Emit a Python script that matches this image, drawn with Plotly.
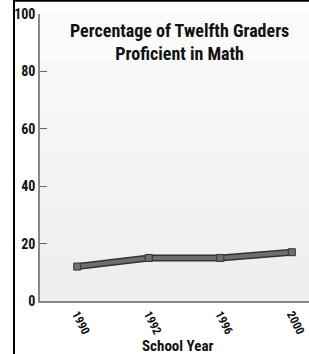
import plotly.graph_objects as go

years = ["1990", "1992", "1996", "2000"]
values = [12, 15, 15, 17]
y_ticks = [0, 20, 40, 60, 80, 100]

FONT = "Liberation Sans Narrow, Arial Narrow, Roboto Condensed, Liberation Sans, sans-serif"

fig = go.Figure()
# outline under the thick line
fig.add_trace(go.Scatter(x=years, y=values, mode="lines",
                         line=dict(color="#333333", width=7), hoverinfo="skip"))
fig.add_trace(go.Scatter(x=years, y=values, mode="lines+markers",
                         line=dict(color="#6e6e6e", width=4),
                         marker=dict(symbol="square", size=7, color="#6e6e6e",
                                     line=dict(color="#333333", width=1))))

# light gradient in the plot background
bands = ["#fbfbfb", "#f8f8f8", "#f5f5f5", "#f3f3f3", "#f1f1f1", "#efefef"]
n = len(bands)
for i, c in enumerate(bands):
    fig.add_shape(type="rect", xref="paper", yref="paper",
                  x0=0, x1=1, y0=1 - (i + 1) / n, y1=1 - i / n,
                  fillcolor=c, line_width=0, layer="below")

# black frame (left and top)
fig.add_shape(type="line", xref="paper", yref="paper",
              x0=-0.0967, x1=-0.0967, y0=-0.2, y1=1.05,
              line=dict(color="black", width=2))
fig.add_shape(type="line", xref="paper", yref="paper",
              x0=-0.0967, x1=1.0, y0=1.046, y1=1.046,
              line=dict(color="black", width=2))

fig.add_annotation(text="<b>Percentage of Twelfth Graders<br>Proficient in Math</b>",
                   xref="paper", yref="paper", x=0.52, y=0.985,
                   xanchor="center", yanchor="top", showarrow=False,
                   font=dict(family=FONT, size=18, color="#111111"))

fig.add_annotation(text="<b>School Year</b>",
                   xref="paper", yref="paper", x=0.51, y=-0.157,
                   xanchor="center", yanchor="middle", showarrow=False,
                   font=dict(family=FONT, size=15, color="#111111"))

fig.update_layout(
    width=309, height=354,
    margin=dict(l=40, r=0, t=14, b=53),
    paper_bgcolor="white", plot_bgcolor="#f4f4f4",
    showlegend=False,
    font=dict(family=FONT, color="#111111"),
    xaxis=dict(type="category", range=[-0.52, 3.24], showgrid=False,
               showline=True, linecolor="#888888", linewidth=1.5,
               ticks="", tickangle=63, automargin=False,
               tickfont=dict(family=FONT, size=12, color="#111111", weight="bold"),
               zeroline=False),
    yaxis=dict(range=[0, 100], tickvals=y_ticks, showgrid=False,
               showline=True, linecolor="#888888", linewidth=1.5,
               ticks="inside", ticklen=7, tickcolor="#666666", automargin=False,
               tickfont=dict(family=FONT, size=14, color="#111111", weight="bold"),
               zeroline=False),
)

css = ("html,body{margin:0;padding:0;overflow:hidden;}"
       "::-webkit-scrollbar{display:none;width:0;height:0;}"
       ".plotly-graph-div{display:block;}")
fig.write_html("out.html", config={"displayModeBar": False},
               post_script=("var s=document.createElement('style');"
                            "s.textContent='" + css + "';"
                            "document.head.appendChild(s);"))
